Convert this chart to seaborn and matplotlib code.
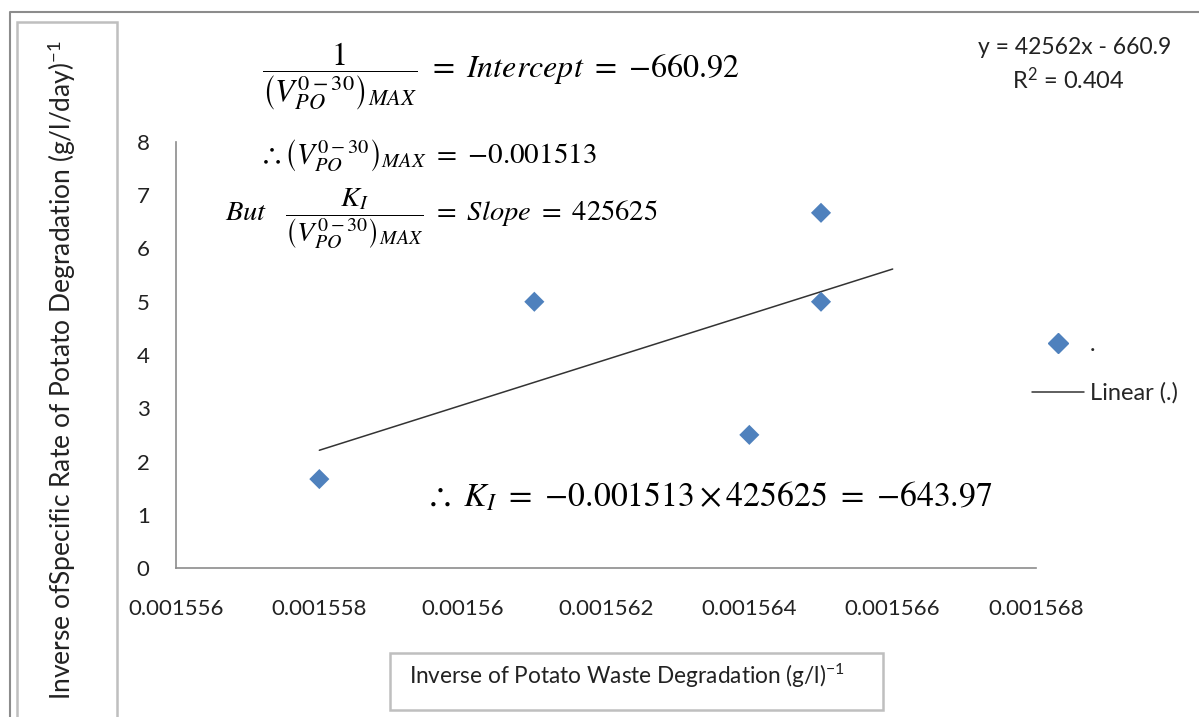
import numpy as np
import pandas as pd
import matplotlib
matplotlib.use("Agg")
import matplotlib.pyplot as plt
import seaborn as sns
from matplotlib.patches import Rectangle
from matplotlib.lines import Line2D

# ---- data ----
inv_waste = [0.001558, 0.001561, 0.001564, 0.001565, 0.001565]
inv_rate = [1.67, 5.0, 2.5, 6.67, 5.0]
x_ticks = [0.001556, 0.001558, 0.00156, 0.001562, 0.001564, 0.001566, 0.001568]
x_tick_labels = ["0.001556", "0.001558", "0.00156", "0.001562", "0.001564", "0.001566", "0.001568"]
y_ticks = [0, 1, 2, 3, 4, 5, 6, 7, 8]
trend_forward = 0.000001

df = pd.DataFrame({"x": inv_waste, "y": inv_rate})

sns.set_theme(style="white")
plt.rcParams["font.family"] = ["Lato", "DejaVu Sans"]
plt.rcParams["mathtext.fontset"] = "custom"
plt.rcParams["mathtext.rm"] = "Lato"
plt.rcParams["mathtext.it"] = "Lato:italic"
plt.rcParams["mathtext.bf"] = "Lato:bold"

W, H = 1199, 717
fig = plt.figure(figsize=(W / 100, H / 100), dpi=100)
ax = fig.add_axes([176 / W, 1 - 568 / H, (1036 - 176) / W, (568 - 142) / H])

sns.scatterplot(data=df, x="x", y="y", marker="D", s=105, color="#4F81BD",
                edgecolor="none", ax=ax, zorder=3, legend=False)

# linear trendline (least squares fit)
slope, intercept = np.polyfit(df["x"], df["y"], 1)
tx = np.array([df["x"].min(), df["x"].max() + trend_forward])
tline = pd.DataFrame({"x": tx, "y": slope * tx + intercept})
sns.lineplot(data=tline, x="x", y="y", color="#333333", lw=1.1, ax=ax, zorder=2)

ax.set_xlim(x_ticks[0], x_ticks[-1])
ax.set_ylim(y_ticks[0], y_ticks[-1])
ax.set_xticks(x_ticks)
ax.set_xticklabels(x_tick_labels)
ax.set_yticks(y_ticks)
ax.set_xlabel("")
ax.set_ylabel("")
for s in ["top", "right"]:
    ax.spines[s].set_visible(False)
for s in ["left", "bottom"]:
    ax.spines[s].set_color("#8c8c8c")
    ax.spines[s].set_linewidth(1.2)
ax.tick_params(axis="both", which="major", direction="out", length=7, width=1.1,
               color="#8c8c8c", labelsize=16, labelcolor="#222222")
ax.tick_params(axis="x", pad=15)
ax.tick_params(axis="y", pad=12)
ax.set_facecolor("white")

# legend
handles = [Line2D([], [], ls="none", marker="D", ms=10, color="#4F81BD"),
           Line2D([], [], color="#333333", lw=1.1)]
ax.legend(handles, [".", "Linear (.)"], loc="center left",
          bbox_to_anchor=(1032 / W, 1 - 369 / H), bbox_transform=fig.transFigure,
          frameon=False, fontsize=17, handlelength=2.2, handletextpad=0.25,
          labelspacing=1.15, borderpad=0, borderaxespad=0)

# trend equation
fig.text(1075 / W, 1 - 48 / H, "y = 42562x - 660.9", ha="center", va="center",
         fontsize=16.5, color="#222222")
fig.text(1068 / W, 1 - 80 / H, r"R$^{\mathrm{2}}$ = 0.404", ha="center", va="center",
         fontsize=17, color="#222222")

# annotation equations
eq1 = r"$\dfrac{1}{\left(V_{PO}^{0-30}\right)_{MAX}}\ =\ Intercept\ =\ {-660.92}$"
eq2 = r"$\therefore\left(V_{PO}^{0-30}\right)_{MAX}\ =\ {-0.001513}$"
eq3 = r"$But\ \ \ \dfrac{K_I}{\left(V_{PO}^{0-30}\right)_{MAX}}\ =\ Slope\ =\ 425625$"
eq4 = r"$\therefore\ K_I\ =\ {-0.001513}\times425625\ =\ {-643.97}$"
eq_kw = dict(ha="left", va="center", color="black", math_fontfamily="stix")
fig.text(262 / W, 1 - 76 / H, eq1, fontsize=23, **eq_kw)
fig.text(258 / W, 1 - 155 / H, eq2, fontsize=21, **eq_kw)
fig.text(225 / W, 1 - 219 / H, eq3, fontsize=20.5, **eq_kw)
fig.text(425 / W, 1 - 496 / H, eq4, fontsize=24.3, **eq_kw)

# outer frame
fig.add_artist(Line2D([10 / W, 10 / W, 1.0], [0, 1 - 12 / H, 1 - 12 / H],
                      transform=fig.transFigure, color="#8c8c8c", lw=1.5))
# y label box
fig.add_artist(Rectangle((17 / W, -0.01), (117 - 17) / W, 1 - 22 / H + 0.01,
                         transform=fig.transFigure, fill=False, ec="#bfbfbf", lw=1.8))
fig.text(62 / W, 1 - 370 / H, r"Inverse ofSpecific Rate of Potato Degradation (g/l/day)$^{\mathrm{-1}}$",
         rotation=90, ha="center", va="center", fontsize=19, color="#222222")
# x label box
fig.add_artist(Rectangle((390 / W, 1 - 710 / H), (883 - 390) / W, (710 - 653) / H,
                         transform=fig.transFigure, fill=False, ec="#bfbfbf", lw=1.8))
fig.text(409 / W, 1 - 676 / H, r"Inverse of Potato Waste Degradation (g/l)$^{\mathrm{-1}}$",
         ha="left", va="center", fontsize=16.3, color="#222222")

fig.savefig("out.png", dpi=100, facecolor="white")
